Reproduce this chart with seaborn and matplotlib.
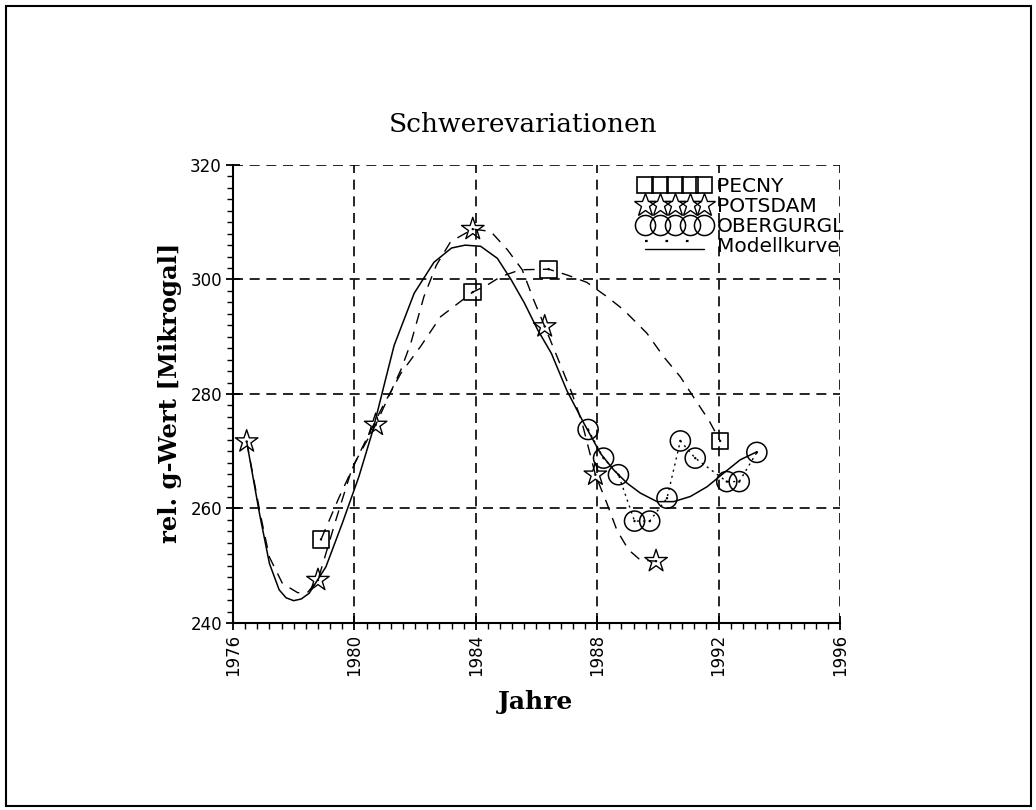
import numpy as np
import pandas as pd
import matplotlib
matplotlib.use("Agg")
import matplotlib.pyplot as plt
import seaborn as sns
from matplotlib.lines import Line2D
from matplotlib.patches import Rectangle
from matplotlib.ticker import MultipleLocator
from matplotlib.legend_handler import HandlerBase

# ---------------- data ----------------
pecny_year = [1978.9, 1983.9, 1986.4, 1992.05]
pecny_val = [254.6, 297.8, 301.8, 271.8]

potsdam_year = [1976.45, 1978.8, 1980.7, 1983.9, 1986.27, 1987.94, 1989.94]
potsdam_val = [271.7, 247.5, 274.6, 308.8, 291.8, 265.9, 250.8]

obergurgl_year = [1987.7, 1988.21, 1988.7, 1989.23, 1989.73, 1990.3,
                  1990.74, 1991.23, 1992.27, 1992.68, 1993.26]
obergurgl_val = [273.8, 268.8, 265.9, 257.8, 257.8, 261.8,
                 271.8, 268.8, 264.7, 264.7, 269.8]

# dashed curve through the PECNY points
pecny_curve_year = [1978.9, 1979.5, 1980.2, 1980.9, 1981.53, 1982.18, 1982.84,
                    1983.9, 1984.37, 1984.82, 1985.47, 1986.4, 1987.0, 1987.66,
                    1988.32, 1988.87, 1989.64, 1990.19, 1990.74, 1991.23,
                    1991.67, 1992.05]
pecny_curve_val = [254.6, 262.0, 270.0, 277.5, 283.6, 288.3, 293.5,
                   297.8, 299.0, 300.5, 301.7, 301.8, 300.8, 299.5,
                   297.0, 294.7, 290.6, 286.5, 283.0, 279.0,
                   275.5, 271.8]

# dashed curve through the POTSDAM points
potsdam_curve_year = [1976.45, 1976.9, 1977.2, 1977.63, 1978.13, 1978.45, 1978.8,
                      1979.39, 1979.94, 1980.7, 1981.53, 1981.86, 1982.29, 1982.7,
                      1983.17, 1983.9, 1984.49, 1985.04, 1985.53, 1985.91,
                      1986.27, 1986.68, 1987.17, 1987.5, 1987.94, 1988.32,
                      1988.65, 1989.03, 1989.42, 1989.94]
potsdam_curve_val = [271.7, 259.0, 251.5, 246.9, 245.3, 245.3, 247.5,
                     258.0, 267.3, 274.6, 284.2, 288.9, 297.0, 302.5,
                     306.6, 308.8, 308.4, 305.2, 301.7, 296.4,
                     291.8, 286.5, 280.1, 275.0, 265.9, 260.9,
                     256.2, 252.8, 251.0, 250.8]

# model curve (solid)
model_year = [1976.48, 1976.87, 1977.2, 1977.52, 1977.75, 1978.0, 1978.25, 1978.51,
              1979.06, 1979.6, 1980.15, 1980.6, 1981.0, 1981.31, 1981.97,
              1982.62, 1983.2, 1983.65, 1984.16, 1984.71, 1985.16, 1985.6,
              1986.04, 1986.49, 1987.0, 1987.56, 1988.11, 1988.55, 1988.99,
              1989.42, 1989.97, 1990.52, 1991.07, 1991.62, 1992.17, 1992.71,
              1993.26]
model_val = [270.8, 259.2, 250.4, 245.8, 244.4, 243.9, 244.2, 245.2,
             249.8, 257.4, 265.6, 273.5, 282.0, 288.5, 297.6,
             303.0, 305.5, 306.0, 305.8, 303.7, 300.0, 295.9,
             291.2, 287.1, 280.6, 274.9, 269.6, 266.7, 264.4,
             262.7, 261.2, 261.2, 262.1, 263.8, 266.2, 268.5,
             269.9]

x_ticks = [1976, 1980, 1984, 1988, 1992, 1996]
y_ticks = [240, 260, 280, 300, 320]
legend_labels = ["PECNY", "POTSDAM", "OBERGURGL", "Modellkurve"]

# ---------------- figure ----------------
sns.set_theme(style="white")
plt.rcParams["font.family"] = ["DejaVu Sans"]
plt.rcParams["axes.edgecolor"] = "black"

W, H = 1036, 810
fig = plt.figure(figsize=(W / 100, H / 100), dpi=100)
fig.patch.set_facecolor("white")
ax = fig.add_axes([233 / W, 1 - 623 / H, (840 - 233) / W, (623 - 165) / H])
ax.set_facecolor("white")

# curves
sns.lineplot(x=model_year, y=model_val, ax=ax, color="black", linewidth=1.1,
             sort=False, estimator=None, zorder=3)
sns.lineplot(x=pecny_curve_year, y=pecny_curve_val, ax=ax, color="black",
             linewidth=1.0, sort=False, estimator=None, dashes=False,
             linestyle=(0, (8, 6)), zorder=3)
sns.lineplot(x=potsdam_curve_year, y=potsdam_curve_val, ax=ax, color="black",
             linewidth=1.0, sort=False, estimator=None, dashes=False,
             linestyle=(0, (8, 6)), zorder=3)
sns.lineplot(x=obergurgl_year, y=obergurgl_val, ax=ax, color="black",
             linewidth=1.0, sort=False, estimator=None, dashes=False,
             linestyle=(0, (1.5, 3)), zorder=3)

# markers
sns.scatterplot(x=pecny_year, y=pecny_val, ax=ax, marker="s", s=12 ** 2,
                color="black", facecolors="none", edgecolor="black",
                linewidth=1.2, zorder=4)
sns.scatterplot(x=potsdam_year, y=potsdam_val, ax=ax, marker="*", s=17 ** 2,
                color="black", facecolors="none", edgecolor="black",
                linewidth=1.0, zorder=4)
sns.scatterplot(x=obergurgl_year, y=obergurgl_val, ax=ax, marker="o", s=14.5 ** 2,
                color="black", facecolors="none", edgecolor="black",
                linewidth=1.1, zorder=4)
for xs, ys in [(pecny_year, pecny_val), (potsdam_year, potsdam_val),
               (obergurgl_year, obergurgl_val)]:
    sns.scatterplot(x=xs, y=ys, ax=ax, marker="o", s=3, color="black",
                    edgecolor="none", zorder=5)

# axes
ax.set_xlim(1976, 1996)
ax.set_ylim(240, 320)
ax.set_xticks(x_ticks)
ax.set_yticks(y_ticks)
ax.xaxis.set_minor_locator(MultipleLocator(0.4))
ax.yaxis.set_minor_locator(MultipleLocator(2))
ax.grid(True, which="major", color="black", linestyle=(0, (6, 4)), linewidth=1.2)
ax.set_axisbelow(True)
for s in ["top", "right"]:
    ax.spines[s].set_visible(False)
for s in ["left", "bottom"]:
    ax.spines[s].set_color("black")
    ax.spines[s].set_linewidth(1.5)
ax.tick_params(which="major", direction="inout", length=10, width=1.3,
               color="black", labelsize=12, labelcolor="black", pad=3)
ax.tick_params(which="minor", direction="out", length=4, width=1.0,
               color="black", bottom=True, left=True)
ax.tick_params(axis="both", which="both", bottom=True, left=True, top=False, right=False)
ax.set_xticklabels([str(v) for v in x_ticks], rotation=90)
ax.set_yticklabels([str(v) for v in y_ticks])
ax.set_xlabel("")
ax.set_ylabel("")

# texts
fig.text(523 / W, 1 - 132 / H, "Schwerevariationen", ha="center", va="baseline",
         family="DejaVu Serif", fontsize=19, color="black")
fig.text(170 / W, 1 - 393 / H, "rel. g-Wert [Mikrogal]", ha="center", va="center",
         rotation=90, family="DejaVu Serif", fontweight="bold", fontsize=17.5,
         color="black")
fig.text(536 / W, 1 - 709 / H, "Jahre", ha="center", va="baseline",
         family="DejaVu Serif", fontweight="bold", fontsize=18, color="black")


# legend
class HandlerModel(HandlerBase):
    def create_artists(self, legend, orig_handle, xdescent, ydescent, width,
                       height, fontsize, trans):
        x0 = -xdescent + 0.3 * fontsize
        x1 = width - xdescent - 0.3 * fontsize
        yc = height / 2 - ydescent
        dots = Line2D([x0, x1], [yc + 2.8, yc + 2.8], ls=(0, (1.2, 8)),
                      color="black", lw=1.6, transform=trans)
        line = Line2D([x0, x1], [yc - 2.8, yc - 2.8], ls="-",
                      color="black", lw=1.0, transform=trans)
        return [dots, line]


h1 = Line2D([], [], ls="none", marker="s", ms=12, mfc="none", mec="black", mew=1.2)
h2 = Line2D([], [], ls="none", marker="*", ms=17, mfc="none", mec="black", mew=1.0)
h3 = Line2D([], [], ls="none", marker="o", ms=14.5, mfc="none", mec="black", mew=1.1)
h4 = Line2D([], [], ls=":", color="black", lw=1.5)
leg = ax.legend([h1, h2, h3, h4], legend_labels, numpoints=5, handlelength=3.55,
                handletextpad=0.3, labelspacing=0.05, frameon=False,
                loc="upper left", bbox_to_anchor=(639 / W, 1 - 177 / H),
                bbox_transform=fig.transFigure, borderpad=0, borderaxespad=0,
                handler_map={h4: HandlerModel()},
                prop={"size": 14.5})
for t in leg.get_texts():
    t.set_color("black")

# outer frame
fig.add_artist(Rectangle((6 / W, 1 - 806 / H), (1031 - 6) / W, (806 - 6) / H,
                         transform=fig.transFigure, fill=False,
                         edgecolor="black", linewidth=1.5))

fig.savefig("out.png", dpi=100, facecolor="white")
